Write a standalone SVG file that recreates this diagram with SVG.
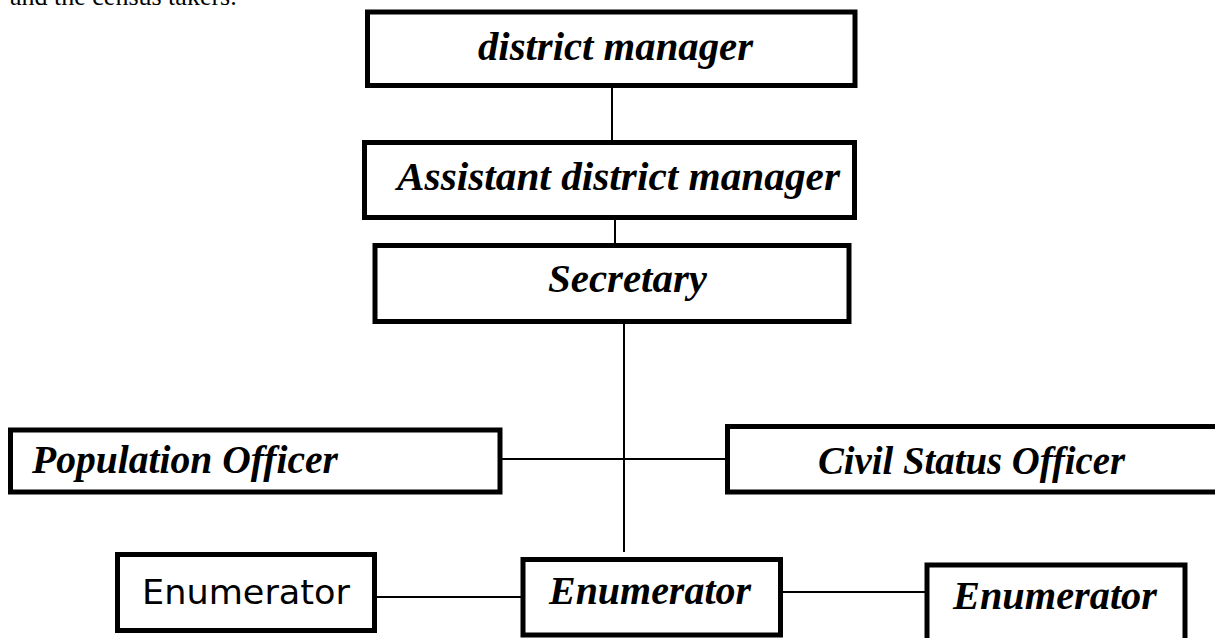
<svg xmlns="http://www.w3.org/2000/svg" width="1215" height="638" viewBox="0 0 1215 638">
<style>
.box{fill:#fff;stroke:#000;stroke-width:5}
.conn line{stroke:#000;stroke-width:2}
.bi{font-family:"Liberation Serif","Times New Roman",serif;font-weight:bold;font-style:italic;font-size:40px;fill:#000}
.plain{font-family:"DejaVu Sans","Liberation Sans",sans-serif;font-size:33px;fill:#000}
.note{font-family:"Liberation Serif","Times New Roman",serif;font-size:26px;fill:#000}
</style>
<rect width="1215" height="638" fill="#fff"/>
<text class="note" x="10" y="5">and the census takers.</text>
<g class="conn" id="connectors">
<line x1="612" y1="87" x2="612" y2="141"/>
<line x1="615" y1="219" x2="615" y2="244"/>
<line x1="624" y1="323" x2="624" y2="552"/>
<line x1="502" y1="459" x2="726" y2="459"/>
<line x1="376" y1="597" x2="521" y2="597"/>
<line x1="782" y1="592" x2="926" y2="592"/>
</g>
<g id="district-manager">
<rect class="box" x="367.5" y="12" width="487.5" height="73.5"/>
<text class="bi" x="478" y="60" textLength="275" lengthAdjust="spacingAndGlyphs">district manager</text>
</g>
<g id="assistant-district-manager">
<rect class="box" x="364.5" y="142.5" width="490" height="75"/>
<text class="bi" x="397" y="190" textLength="443" lengthAdjust="spacingAndGlyphs">Assistant district manager</text>
</g>
<g id="secretary">
<rect class="box" x="375" y="245.5" width="474" height="76"/>
<text class="bi" x="548" y="292" textLength="159" lengthAdjust="spacingAndGlyphs">Secretary</text>
</g>
<g id="population-officer">
<rect class="box" x="10.5" y="430" width="489.5" height="62"/>
<text class="bi" x="32" y="473" textLength="306" lengthAdjust="spacingAndGlyphs">Population Officer</text>
</g>
<g id="civil-status-officer">
<rect class="box" x="727.5" y="426.5" width="492" height="65.5"/>
<text class="bi" x="818" y="474" textLength="307" lengthAdjust="spacingAndGlyphs">Civil Status Officer</text>
</g>
<g id="enumerator-left">
<rect class="box" x="117.5" y="554.5" width="257" height="76"/>
<text class="plain" x="142" y="604" textLength="208" lengthAdjust="spacingAndGlyphs">Enumerator</text>
</g>
<g id="enumerator-center">
<rect class="box" x="523" y="559.5" width="257.5" height="75.5"/>
<text class="bi" x="549" y="604" textLength="202" lengthAdjust="spacingAndGlyphs">Enumerator</text>
</g>
<g id="enumerator-right">
<rect class="box" x="927" y="565" width="258" height="80"/>
<text class="bi" x="953" y="609" textLength="204" lengthAdjust="spacingAndGlyphs">Enumerator</text>
</g>
</svg>
